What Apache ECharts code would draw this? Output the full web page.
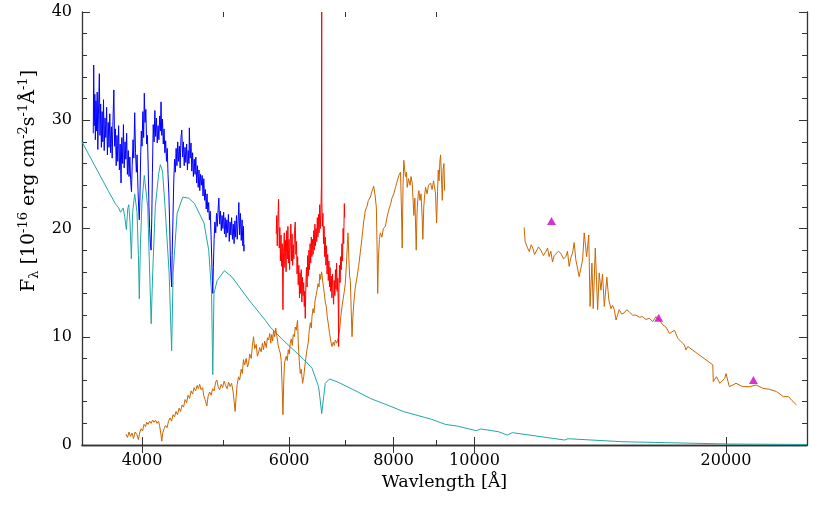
<!DOCTYPE html>
<html>
<head>
<meta charset="utf-8">
<script src="https://cdn.jsdelivr.net/npm/echarts@6/dist/echarts.min.js"></script>
<style>
html,body{margin:0;padding:0;background:#fff}
#chart{width:817px;height:505px}
</style>
</head>
<body>
<div id="chart"></div>
<script>
// axis setup (wavelength in Angstrom, plotted on a log10 scale)
var FONT = 'DejaVu Serif';
var xMin = 3390, xMax = 25000;
var majorTicks = [4000, 6000, 8000, 10000, 20000];
var minorTicks = [5000, 7000, 9000];

// model spectrum (teal)
var modelWave = [3390,3649,3716,3750,3770,3798,3815,3831,3845,3856,3870,3884,3898,3920,3945,3960,3970,3982,4000,4025,
  4063,4085,4102,4119,4149,4188,4207,4232,4262,4310,4340,4358,4406,4475,4550,4622,4745,4807,4845,4861,
  4877,4920,5020,5128,5370,5621,5695,5880,6246,6390,6506,6528,6563,6600,6628,6706,6845,7165,7505,7858,
  8215,8887,9229,9535,10049,10172,10677,10940,11100,12820,12940,15060,20200,25000];
var modelFlux = [28.0,23.4,22.3,21.9,21.5,21.9,21.0,19.9,21.8,22.2,20.5,17.2,21.5,23.2,21.5,17.5,13.5,18.5,22.5,24.9,
  22.0,15.9,11.2,15.9,22.0,25.1,25.9,25.3,22.0,15.9,8.7,15.9,21.4,22.9,22.8,22.3,20.5,18.0,14.0,6.5,
  14.0,15.2,16.1,15.5,13.4,11.5,10.9,9.8,7.9,7.1,5.4,4.5,2.9,4.5,5.7,6.1,5.85,5.1,4.3,3.7,
  3.1,2.37,1.9,1.75,1.32,1.48,1.23,0.92,1.14,0.46,0.58,0.3,0.09,0.05];

// blue spectrum
var blueWave = [3497,3501,3506,3512,3517,3523,3529,3535,3541,3547,
  3556,3562,3569,3576,3583,3590,3597,3604,3612,3620,
  3628,3636,3644,3652,3660,3668,3676,3684,3692,3701,
  3709,3717,3725,3733,3741,3750,3758,3766,3775,3783,
  3792,3800,3808,3817,3825,3834,3842,3851,3859,3868,
  3876,3885,3893,3902,3910,3920,3929,3938,3946,3956,
  3965,3970,3977,3985,3992,4000,4009,4018,4025,4033,
  4042,4051,4060,4069,4077,4085,4093,4101,4109,4116,
  4125,4135,4144,4153,4162,4171,4181,4190,4199,4208,
  4215,4223,4232,4241,4250,4260,4269,4279,4288,4297,
  4307,4316,4326,4340,4346,4356,4365,4375,4385,4394,
  4404,4413,4423,4433,4443,4453,4463,4473,4483,4493,
  4503,4513,4523,4533,4543,4552,4557,4567,4578,4588,
  4598,4608,4619,4629,4639,4649,4660,4670,4680,4690,
  4700,4711,4721,4732,4742,4753,4763,4774,4785,4795,
  4806,4816,4827,4838,4848,4855,4861,4869,4879,4889,
  4901,4911,4922,4933,4943,4954,4965,4976,4987,4998,
  5009,5020,5030,5042,5053,5064,5075,5087,5098,5109,
  5120,5132,5143,5155,5166,5177,5189,5200,5212,5223,
  5235,5246,5258,5270,5281,5290,5296,5300];
var blueFlux = [28.8,35.1,29.5,32.4,28.2,31.8,29.0,32.6,27.3,30.5,
  34.3,28.6,31.5,27.5,30.8,28.0,31.9,27.2,30.2,28.4,
  31.2,26.8,29.8,27.5,30.6,27.0,29.4,26.5,29.9,32.8,
  27.6,29.2,25.8,28.6,26.2,29.5,25.4,27.8,24.2,28.4,
  26.0,29.6,25.6,28.0,26.4,28.8,25.0,27.2,24.8,26.6,
  24.5,23.4,25.8,28.2,26.5,30.7,27.0,25.2,26.8,23.5,
  21.5,20.8,23.0,26.8,29.0,27.6,30.8,28.4,32.5,29.8,
  31.0,27.8,28.6,25.5,22.0,20.0,18.6,18.0,21.0,25.2,
  29.6,28.0,30.9,28.5,30.2,27.9,29.5,28.2,30.4,29.0,
  31.7,28.6,30.1,27.8,29.2,27.0,28.1,26.2,27.4,25.0,
  23.2,20.5,16.8,14.6,17.5,21.0,24.2,26.4,25.2,27.4,
  25.8,28.0,26.2,27.6,25.6,28.4,29.1,26.6,28.0,25.8,
  27.5,26.1,27.8,25.4,27.2,26.0,29.3,26.5,27.9,25.3,
  27.0,24.8,26.4,25.0,26.6,24.2,25.8,23.8,25.4,23.5,
  25.0,24.0,24.9,23.0,24.6,22.6,23.6,21.8,23.2,21.5,
  22.4,20.8,21.6,19.4,17.0,15.2,14.0,16.4,19.0,20.6,
  19.6,21.4,20.2,21.8,22.8,20.4,21.6,19.8,21.2,20.0,
  21.5,19.5,21.0,19.2,20.8,19.6,21.3,18.8,20.6,19.4,
  21.0,19.0,20.4,18.6,20.7,19.2,21.2,19.0,20.6,22.4,
  19.4,21.4,18.9,20.8,18.4,20.2,17.9,18.5];

// red spectrum
var redWave = [5790,5798,5806,5816,5827,5838,5848,5857,5867,5877,
  5887,5898,5908,5920,5929,5939,5949,5959,5969,5979,
  5988,5998,6008,6018,6028,6038,6048,6058,6068,6078,
  6089,6102,6112,6122,6132,6142,6152,6162,6173,6183,
  6193,6203,6214,6224,6234,6245,6255,6263,6272,6283,
  6293,6304,6314,6325,6336,6346,6356,6367,6378,6388,
  6399,6409,6420,6430,6441,6452,6462,6473,6484,6495,
  6506,6516,6527,6538,6549,6558,6563,6566,6574,6585,
  6596,6606,6617,6628,6639,6650,6661,6672,6683,6694,
  6705,6716,6728,6739,6750,6761,6773,6782,6793,6805,
  6816,6827,6838,6849,6861,6872,6876,6882,6893,6904,
  6916,6927,6939,6950,6962,6973,6985,6993];
var redFlux = [19.5,21.2,18.4,20.6,22.7,18.2,20.1,17.0,19.4,16.5,
  18.6,12.5,17.8,19.6,16.4,18.9,16.0,19.8,17.2,20.2,
  16.8,19.0,16.2,18.8,20.4,17.0,19.5,16.6,18.5,17.2,
  19.8,20.6,17.6,18.8,15.8,17.4,14.8,16.6,13.6,15.9,
  14.0,16.2,13.2,15.5,13.8,15.0,12.8,14.2,11.7,14.8,
  16.4,14.6,17.5,15.6,18.0,16.2,18.6,16.8,19.2,17.4,
  19.0,17.6,19.8,18.0,20.4,18.4,20.0,18.8,21.0,19.2,
  21.3,19.6,22.2,20.0,21.6,24.0,40.0,22.5,20.2,21.4,
  18.6,20.2,17.4,19.2,16.6,18.4,15.8,17.6,15.2,17.0,
  14.6,16.4,14.2,15.6,13.6,15.8,14.0,13.0,15.2,13.8,
  16.2,14.4,16.8,14.2,15.4,12.0,9.1,14.0,16.6,15.0,
  17.4,16.2,18.6,17.0,20.0,18.6,22.3,21.0];

// orange spectrum, optical part
var optWave = [3827,3843,3859,3875,3891,3907,3924,3942,3960,3973,
  3989,4006,4022,4039,4052,4067,4084,4101,4118,4135,
  4152,4169,4186,4198,4210,4224,4234,4251,4268,4286,
  4303,4321,4339,4357,4375,4393,4411,4430,4448,4467,
  4485,4504,4523,4541,4560,4579,4598,4617,4636,4656,
  4672,4688,4707,4727,4740,4759,4782,4799,4819,4839,
  4859,4879,4899,4916,4933,4954,4974,4995,5015,5036,
  5057,5078,5099,5120,5142,5156,5170,5184,5199,5218,
  5235,5257,5274,5290,5308,5330,5349,5364,5382,5404,
  5422,5439,5457,5479,5497,5514,5532,5555,5574,5591,
  5609,5633,5651,5668,5687,5703,5718,5734,5747,5766,
  5782,5801,5822,5838,5854,5870,5884,5898,5911,5924,
  5936,5952,5969,5985,6002,6018,6035,6052,6068,6085,
  6102,6119,6131,6141,6152,6169,6186,6203,6226,6246,
  6263,6281,6302,6325,6342,6360,6378,6390,6408,6425,
  6443,6461,6479,6497,6515,6529,6543,6561,6587,6610,
  6628,6647,6665,6683,6707,6729,6752,6776,6795,6814,
  6842,6876,6899,6918,6941,6966,6985,7004,7024,7043,
  7057,7073,7088,7102,7118,7135,7151,7171,7200,7230,
  7266,7300,7335,7367,7402,7433,7464,7505,7536,7574,
  7605,7630,7645,7658,7673,7694,7715,7747,7779,7822,
  7855,7894,7932,7965,8005,8043,8077,8117,8155,8175,
  8193,8212,8230,8250,8268,8291,8307,8337,8372,8395,
  8423,8460,8484,8516,8535,8559,8578,8606,8630,8659,
  8673,8695,8714,8738,8774,8810,8859,8896,8933,8982,
  9007,9032,9049,9069,9089,9107,9127,9150,9171,9191,
  9209];
var optFlux = [1.0,0.7,1.2,0.8,1.1,0.6,1.2,1.0,0.5,1.1,
  1.5,1.3,1.9,1.7,2.1,1.9,2.2,2.0,2.3,2.1,
  2.3,2.0,2.2,1.8,1.2,0.35,1.1,1.5,1.8,1.6,
  2.2,2.5,2.2,2.8,2.6,3.1,2.8,3.4,3.1,3.7,
  3.5,4.2,3.9,4.6,4.3,5.0,4.7,5.3,5.0,5.5,
  5.2,5.6,5.1,5.3,4.6,4.2,3.6,4.5,4.9,4.6,
  5.2,5.0,5.8,6.0,5.4,5.1,5.6,5.3,5.9,5.5,
  5.2,5.8,5.4,5.7,4.9,4.0,3.1,4.4,5.6,6.3,
  6.0,7.0,6.6,7.9,7.4,8.0,7.2,7.5,8.4,8.0,
  9.2,10.0,8.9,9.3,8.2,8.5,9.0,8.6,9.4,8.8,
  9.6,9.0,9.9,9.7,10.3,9.4,10.2,9.6,10.6,10.0,
  10.8,10.0,9.2,8.8,8.5,7.8,5.5,2.8,5.8,7.6,
  7.6,8.2,7.8,8.8,8.4,9.4,9.8,9.2,10.2,10.0,
  10.9,10.6,11.2,11.5,9.5,7.8,6.6,7.0,5.7,6.3,
  7.2,8.0,8.8,9.5,10.6,11.3,10.8,11.9,12.6,12.2,
  13.3,13.8,14.3,14.9,14.6,15.8,15.3,16.0,14.9,14.0,
  13.2,12.8,11.8,11.2,10.3,9.6,9.1,9.5,9.2,9.7,
  9.4,10.0,10.8,11.9,12.8,13.6,14.2,14.9,16.6,18.4,
  19.6,17.2,15.6,15.2,12.6,10.0,11.8,13.2,14.6,15.4,
  16.5,17.8,19.2,20.6,21.7,22.0,22.6,22.9,23.4,23.9,
  23.0,21.9,18.2,14.0,17.2,19.0,19.6,19.2,20.0,20.2,
  21.0,21.7,22.2,22.8,23.2,23.8,24.3,24.9,25.2,22.0,
  18.2,24.0,26.3,25.4,24.8,25.2,23.8,24.6,24.0,24.8,
  24.2,21.2,22.8,18.0,21.5,23.0,23.5,22.6,23.2,20.8,
  19.0,22.0,23.0,23.8,23.2,24.0,24.2,23.6,24.4,23.2,
  20.5,23.4,25.4,24.4,26.2,26.8,25.0,22.6,25.5,26.0,
  23.5];

// orange spectrum, near-infrared part
var nirWave = [11465,11497,11560,11630,11690,11740,11800,11851,11930,12004,
  12090,12170,12230,12282,12340,12398,12455,12512,12600,12686,
  12780,12862,12920,12980,13040,13100,13160,13222,13342,13406,
  13470,13530,13620,13700,13750,13820,13870,13950,14040,14100,
  14167,14230,14300,14400,14480,14563,14630,14700,14770,14900,
  15000,15100,15210,15320,15460,15600,15750,15890,16040,16190,
  16340,16490,16640,16800,16950,17110,17350,17510,17667,17830,
  17910,18000,19284,19310,19480,19660,19930,20000,20180,20560,
  20940,21330,21730,22140,22560,22990,23420,23760,23990,24290];
var nirFlux = [20.1,18.8,18.3,17.86,18.5,18.2,17.6,17.7,18.3,18.0,
  17.5,17.86,18.2,17.4,17.9,16.9,17.5,17.4,17.9,17.7,
  17.2,17.4,17.9,16.5,17.3,17.7,18.7,17.1,15.55,15.4,
  17.1,19.6,17.4,19.4,12.8,16.8,12.6,18.2,12.5,15.9,
  14.3,15.8,12.8,15.5,13.4,12.6,12.9,12.5,11.55,12.5,
  12.1,12.2,12.5,12.3,12.0,12.0,11.8,11.86,11.6,11.7,
  11.4,11.86,11.55,11.1,10.9,10.3,10.6,9.86,9.55,9.24,
  8.78,9.1,7.4,5.85,6.31,5.7,6.16,6.6,5.39,5.7,
  5.39,5.39,5.54,5.24,5.14,4.93,4.47,4.47,4.1,3.7];

// photometric points (magenta triangles)
var photWave = [12364, 16612, 21570];
var photFlux = [20.7, 11.76, 6.0];

function logPairs(w, f) {
    return w.map(function (x, i) { return [Math.log10(x), f[i]]; });
}
function logList(arr) {
    return arr.map(function (v) { return Math.log10(v); });
}

var chart = echarts.init(document.getElementById('chart'), null, {renderer: 'canvas'});
var lineCol = '#333';
var axisLine = {show: true, lineStyle: {color: lineCol, width: 1.3}};
var lmin = Math.log10(xMin), lmax = Math.log10(xMax);

function specLine(data, color, z) {
    return {
        type: 'line', data: data, symbol: 'none', showSymbol: false,
        lineStyle: {color: color, width: 1}, z: z, silent: true
    };
}

var option = {
    animation: false,
    backgroundColor: '#fff',
    textStyle: {fontFamily: FONT},
    grid: [
        {left: 82, right: 10, top: 12, bottom: 60},
        {left: 82, right: 10, top: 12, bottom: 60}
    ],
    xAxis: [
        {
            type: 'value', gridIndex: 0, position: 'bottom', min: lmin, max: lmax,
            axisLine: axisLine,
            axisTick: {inside: true, length: 8, customValues: logList(majorTicks), lineStyle: {color: lineCol}},
            axisLabel: {
                customValues: logList(majorTicks), margin: 8, fontSize: 16, color: '#000', fontFamily: FONT,
                formatter: function (v) { return String(Math.round(Math.pow(10, v))); }
            },
            splitLine: {show: false},
            name: 'Wavlength [Å]', nameLocation: 'middle', nameGap: 27,
            nameTextStyle: {fontSize: 17.5, color: '#000', fontFamily: FONT}
        },
        {
            type: 'value', gridIndex: 0, position: 'top', min: lmin, max: lmax,
            axisLine: axisLine,
            axisTick: {inside: true, length: 8, customValues: logList(majorTicks), lineStyle: {color: lineCol}},
            axisLabel: {show: false}, splitLine: {show: false}
        },
        {
            type: 'value', gridIndex: 1, position: 'bottom', min: lmin, max: lmax,
            axisLine: {show: false},
            axisTick: {inside: true, length: 5, customValues: logList(minorTicks), lineStyle: {color: lineCol}},
            axisLabel: {show: false}, splitLine: {show: false}
        },
        {
            type: 'value', gridIndex: 1, position: 'top', min: lmin, max: lmax,
            axisLine: {show: false},
            axisTick: {inside: true, length: 5, customValues: logList(minorTicks), lineStyle: {color: lineCol}},
            axisLabel: {show: false}, splitLine: {show: false}
        }
    ],
    yAxis: [
        {
            type: 'value', gridIndex: 0, position: 'left', min: 0, max: 40, interval: 10,
            axisLine: axisLine,
            axisTick: {inside: true, length: 8, lineStyle: {color: lineCol}},
            minorTick: {show: true, splitNumber: 5, length: 5, lineStyle: {color: lineCol}},
            axisLabel: {margin: 10, fontSize: 16, color: '#000', fontFamily: FONT},
            splitLine: {show: false}, minorSplitLine: {show: false}
        },
        {
            type: 'value', gridIndex: 0, position: 'right', min: 0, max: 40, interval: 10,
            axisLine: axisLine,
            axisTick: {inside: true, length: 8, lineStyle: {color: lineCol}},
            minorTick: {show: true, splitNumber: 5, length: 5, lineStyle: {color: lineCol}},
            axisLabel: {show: false},
            splitLine: {show: false}, minorSplitLine: {show: false}
        },
        {type: 'value', gridIndex: 1, min: 0, max: 40, show: false}
    ],
    graphic: [{
        type: 'text', x: 29, y: 181, rotation: Math.PI / 2,
        style: {
            text: 'F{sub|λ} [10{sup|-16} erg cm{sup|-2}s{sup|-1}Å{sup|-1}]',
            font: '19px "DejaVu Serif"', fill: '#000',
            align: 'center', verticalAlign: 'middle', lineHeight: 24,
            rich: {
                sup: {fontSize: 13, fontFamily: FONT, verticalAlign: 'top', lineHeight: 13, fill: '#000'},
                sub: {fontSize: 13, fontFamily: FONT, verticalAlign: 'bottom', lineHeight: 13, fill: '#000'}
            }
        }
    }],
    series: [
        specLine(logPairs(modelWave, modelFlux), '#22a6a6', 2),
        specLine(logPairs(optWave, optFlux), '#cc6600', 3),
        specLine(logPairs(nirWave, nirFlux), '#cc6600', 3),
        specLine(logPairs(blueWave, blueFlux), '#0000ff', 4),
        specLine(logPairs(redWave, redFlux), '#ff0000', 5),
        {
            type: 'scatter', data: logPairs(photWave, photFlux), symbol: 'triangle',
            symbolSize: [9, 8], itemStyle: {color: '#cc00cc'}, z: 6, silent: true
        }
    ]
};
chart.setOption(option);
</script>
</body>
</html>
